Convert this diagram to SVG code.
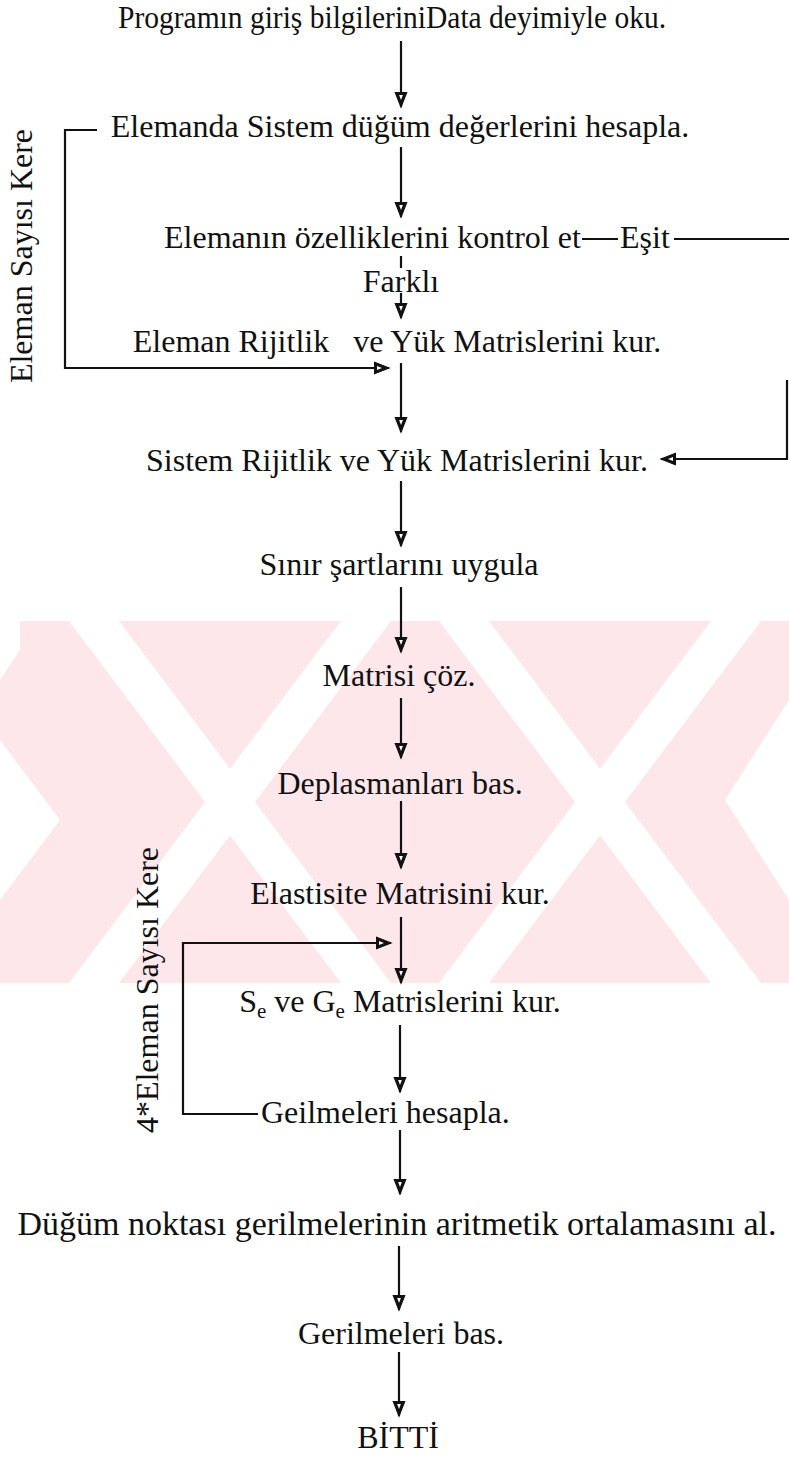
<svg xmlns="http://www.w3.org/2000/svg" width="789" height="1458" viewBox="0 0 789 1458">
<style>
text{font-family:"Liberation Serif","Times New Roman",serif;font-size:32px;fill:#111}
.c{text-anchor:middle}
.ln{fill:none;stroke:#111;stroke-width:2.2}
.ar{fill:none;stroke:#111;stroke-width:2.2;marker-end:url(#ah)}
.wm{fill:#fde7eb}
.wg{fill:#fff}
</style>
<defs>
<marker id="ah" viewBox="0 0 16 13" refX="15" refY="6.5" markerWidth="16" markerHeight="13" markerUnits="userSpaceOnUse" orient="auto" overflow="visible">
<path d="M0.6,0.8 L15,6.5 L0.6,12.2 Z" fill="#111" stroke="#111" stroke-width="1.2" stroke-linejoin="miter"/>
<path d="M3,4.6 L8,6.5 L3,8.4 Z" fill="#fff"/>
</marker>
<clipPath id="wmclip"><rect x="0" y="621" width="789" height="362"/></clipPath>
</defs>
<rect width="789" height="1458" fill="#fff"/>
<g id="watermark" clip-path="url(#wmclip)">
<rect class="wm" x="0" y="621" width="789" height="362"/>
<polygon class="wg" points="0,621 20,621 20,650 0,680"/>
<polygon class="wg" points="69,621 119,621 391,983 341,983"/>
<polygon class="wg" points="341,621 391,621 119,983 69,983"/>
<polygon class="wg" points="439,621 489,621 761,983 711,983"/>
<polygon class="wg" points="711,621 761,621 489,983 439,983"/>
<polygon class="wg" points="0,740 0,900 60,820"/>
<polygon class="wg" points="789,700 789,900 725,800"/>
</g>
<g id="connectors">
<line class="ar" x1="401" y1="41" x2="401" y2="107"/>
<line class="ar" x1="401" y1="147" x2="401" y2="217"/>
<line class="ln" x1="401" y1="256" x2="401" y2="268"/>
<line class="ar" x1="401" y1="293" x2="401" y2="318"/>
<line class="ar" x1="401" y1="363" x2="401" y2="432"/>
<line class="ar" x1="401" y1="481" x2="401" y2="546"/>
<line class="ar" x1="401" y1="587" x2="401" y2="652"/>
<line class="ar" x1="401" y1="698" x2="401" y2="758"/>
<line class="ar" x1="401" y1="801" x2="401" y2="868"/>
<line class="ar" x1="401" y1="917" x2="401" y2="983"/>
<line class="ar" x1="400" y1="1025" x2="400" y2="1092"/>
<line class="ar" x1="400" y1="1130" x2="400" y2="1194"/>
<line class="ar" x1="399" y1="1246" x2="399" y2="1310"/>
<line class="ar" x1="399" y1="1352" x2="399" y2="1416"/>
<path class="ar" d="M97,130 H65 V368 H389"/>
<line class="ln" x1="582" y1="239" x2="618" y2="239"/>
<line class="ln" x1="674" y1="239" x2="789" y2="239"/>
<path class="ar" d="M787,380 V459 H661"/>
<path class="ar" d="M258,1114 H183 V943 H391"/>
</g>
<g id="n1"><text class="c" x="392" y="28" textLength="548" lengthAdjust="spacingAndGlyphs">Programın giriş bilgileriniData deyimiyle oku.</text></g>
<g id="n2"><text class="c" x="400" y="137">Elemanda Sistem düğüm değerlerini hesapla.</text></g>
<g id="n3"><text x="164" y="248">Elemanın özelliklerini kontrol et</text></g>
<g id="l-esit"><text x="620" y="248">Eşit</text></g>
<g id="l-farkli"><text class="c" x="401" y="292">Farklı</text></g>
<g id="n4"><text class="c" x="397" y="352" xml:space="preserve" style="white-space:pre">Eleman Rijitlik   ve Yük Matrislerini kur.</text></g>
<g id="n5"><text class="c" x="397" y="471">Sistem Rijitlik ve Yük Matrislerini kur.</text></g>
<g id="n6"><text class="c" x="399" y="575">Sınır şartlarını uygula</text></g>
<g id="n7"><text class="c" x="399" y="686">Matrisi çöz.</text></g>
<g id="n8"><text class="c" x="400" y="794">Deplasmanları bas.</text></g>
<g id="n9"><text class="c" x="400" y="904">Elastisite Matrisini kur.</text></g>
<g id="n10"><text class="c" x="400" y="1012">S<tspan font-size="21" dy="6">e</tspan><tspan dy="-6"> ve G</tspan><tspan font-size="21" dy="6">e</tspan><tspan dy="-6"> Matrislerini kur.</tspan></text></g>
<g id="n11"><text x="261" y="1123">Geilmeleri hesapla.</text></g>
<g id="n12"><text class="c" x="397" y="1235" style="font-size:34px">Düğüm noktası gerilmelerinin aritmetik ortalamasını al.</text></g>
<g id="n13"><text class="c" x="401" y="1344">Gerilmeleri bas.</text></g>
<g id="n14"><text class="c" x="398" y="1448">BİTTİ</text></g>
<g id="loop1-label"><text class="c" transform="translate(32,256) rotate(-90)">Eleman Sayısı Kere</text></g>
<g id="loop2-label"><text class="c" transform="translate(158,990) rotate(-90)">4*Eleman Sayısı Kere</text></g>
</svg>
